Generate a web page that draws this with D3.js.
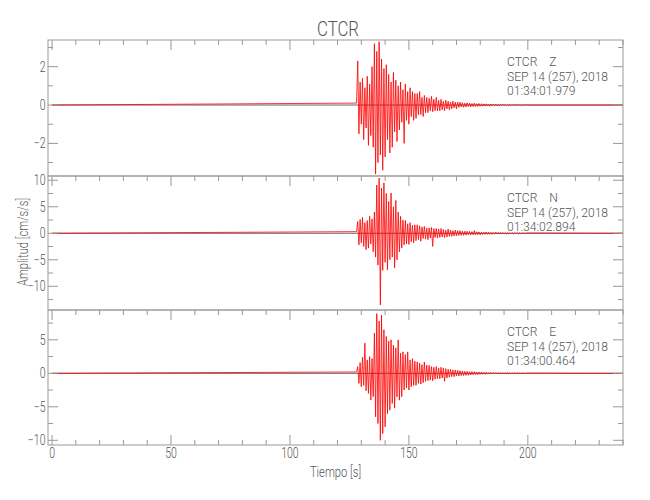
<!DOCTYPE html>
<html><head><meta charset="utf-8">
<script src="https://cdn.jsdelivr.net/npm/d3@7"></script>
<style>body{margin:0;background:#fff}svg{display:block}text{font-family:Roboto,"DejaVu Sans",sans-serif;font-weight:300;fill:#555;white-space:pre}</style>
</head><body><svg id="c" width="650" height="500"></svg>
<script>
const title = "CTCR";
const station = "CTCR";
const components = ["Z", "N", "E"];
const dateLabel = "SEP 14 (257), 2018";
const startTimes = ["01:34:01.979", "01:34:02.894", "01:34:00.464"];
const xLabel = "Tiempo [s]";
const yLabel = "Amplitud [cm/s/s]";
const xMajorTicks = [0, 50, 100, 150, 200];
const yMajorTicks = [[-2, 0, 2], [-10, -5, 0, 5, 10], [-10, -5, 0, 5]];
const yDomains = [[-3.70, 3.39], [-14.47, 10.8], [-10.7, 9.45]];
const yMinorStep = [1, 2.5, 2.5];
const tStart = 128, dt = 0.5, tEnd = 240;
const zValues = [
 0.1, 2.3, -1.5, 1.2, -1.0, 1.4, -1.8, 0.9, -1.2, 1.5,
 -2.1, 1.1, -1.6, 2.0, -2.2, 3.2, -3.6, 2.8, -3.0, 3.3,
 -2.6, 2.4, -3.4, 1.9, -2.7, 2.1, -1.8, 1.6, -2.5, 1.2,
 -2.2, 1.7, -1.4, 1.3, -1.9, 1.0, -1.3, 1.2, -0.9, 0.8,
 -2.0, 1.1, -0.8, 0.7, -1.0, 0.9, -0.6, 0.7, -0.8, 0.6,
 -0.7, 0.6, -0.5, 0.7, -0.5, 0.4, -0.6, 0.5, -0.4, 0.4,
 -0.4, 0.35, -0.3, 0.45, -0.35, 0.3, -0.3, 0.4, -0.3, 0.25,
 -0.3, 0.3, -0.25, 0.2, -0.3, 0.25, -0.2, 0.2, -0.25, 0.15,
 -0.2, 0.2, -0.15, 0.15, -0.2, 0.15, -0.12, 0.15, -0.1, 0.12,
 -0.12, 0.1, -0.1, 0.12, -0.08, 0.1, -0.1, 0.08, -0.08, 0.1,
 -0.08, 0.07, -0.07, 0.08, -0.06, 0.07, -0.06, 0.06, -0.05, 0.06,
 -0.05, 0.05, -0.06, 0.05, -0.04, 0.05, -0.04, 0.04, -0.05, 0.04,
 -0.04, 0.04, -0.03, 0.04, -0.03, 0.03, -0.03, 0.03, -0.03, 0.03,
 -0.03, 0.02, -0.02, 0.03, -0.02, 0.02, -0.02, 0.02, -0.02, 0.02,
 -0.02, 0.02, 0.01, 0];
const nValues = [
 0.3, 2.2, -2.2, 2.6, -1.8, 3.0, -2.5, 2.0, -3.1, 2.4,
 -2.8, 3.2, -2.0, 2.7, -3.5, 4.0, -4.5, 9.1, -6.0, 10.4,
 -13.5, 8.5, -7.0, 9.5, -5.5, 7.5, -6.9, 6.0, -5.0, 7.6,
 -4.5, 5.0, -6.5, 6.2, -5.0, 4.0, -3.5, 3.2, -2.8, 2.5,
 -2.2, 2.4, -2.0, 1.8, -2.1, 2.0, -1.6, 1.5, -1.8, 1.6,
 -1.4, 1.6, -1.2, 1.4, -1.5, 1.2, -1.0, 1.3, -1.1, 1.0,
 -1.2, 1.0, -0.9, 1.1, -2.5, 0.9, -0.8, 0.9, -0.9, 0.8,
 -0.8, 0.9, -0.7, 0.7, -0.8, 0.6, -0.7, 0.8, -0.6, 0.6,
 -0.6, 0.5, -0.5, 0.6, -0.5, 0.5, -0.4, 0.5, -0.4, 0.4,
 -0.4, 0.4, -0.35, 0.4, -0.3, 0.35, -0.3, 0.3, -0.3, 0.5,
 -0.3, 0.3, -0.25, 0.25, -0.3, 0.2, -0.25, 0.2, -0.2, 0.25,
 -0.2, 0.2, -0.2, 0.15, -0.2, 0.15, -0.15, 0.2, -0.15, 0.15,
 -0.15, 0.15, -0.12, 0.12, -0.15, 0.1, -0.12, 0.1, -0.1, 0.1,
 -0.1, 0.1, -0.1, 0.1, -0.08, 0.08, -0.1, 0.08, -0.08, 0.08,
 -0.08, 0.06, -0.06, 0.05];
const eValues = [
 0.2, 1.0, -1.5, 1.6, -2.0, 2.4, -1.8, 4.5, -2.6, 2.0,
 -3.0, 2.5, -4.0, 2.2, -3.5, 6.0, -6.5, 8.9, -7.5, 7.8,
 -10.0, 8.7, -9.0, 6.5, -8.0, 5.5, -6.0, 4.8, -5.5, 5.0,
 -4.5, 4.2, -5.2, 3.8, -3.5, 5.0, -4.0, 3.0, -3.5, 3.2,
 -2.5, 2.8, -2.2, 3.2, -2.5, 2.0, -2.0, 2.2, -1.8, 1.8,
 -1.8, 1.7, -1.5, 1.5, -1.6, 1.3, -1.4, 1.7, -1.2, 1.2,
 -1.1, 1.2, -1.0, 1.0, -1.1, 0.9, -0.9, 1.0, -0.8, 0.8,
 -0.8, 0.9, -0.7, 0.8, -1.2, 0.7, -0.7, 0.6, -0.6, 0.6,
 -0.5, 0.5, -0.5, 0.5, -0.4, 0.45, -0.4, 0.4, -0.35, 0.35,
 -0.35, 0.3, -0.3, 0.3, -0.3, 0.25, -0.25, 0.25, -0.2, 0.25,
 -0.2, 0.2, -0.2, 0.2, -0.15, 0.2, -0.15, 0.15, -0.15, 0.15,
 -0.12, 0.12, -0.12, 0.12, -0.1, 0.12, -0.1, 0.1, -0.1, 0.1,
 -0.1, 0.08, -0.08, 0.08, -0.08, 0.08, -0.06, 0.08, -0.06, 0.06,
 -0.06, 0.06, -0.05, 0.06, -0.05, 0.05, -0.05, 0.05, -0.04, 0.04,
 -0.04, 0.04, -0.03, 0.03];
const seriesValues = [zValues, nValues, eValues];

const svg = d3.select("#c");
const axisColor = "#999";
const frameL = 48, frameR = 623;
const panelTops = [40, 176, 310], panelBottoms = [176, 310, 445];
const x = d3.scaleLinear().domain([-1.7, 240]).range([frameL, frameR]);
const minorX = d3.range(0, 241, 10);

function squeeze(sel, f) {
  sel.each(function() { const w = this.getComputedTextLength(); d3.select(this).attr("textLength", w * f).attr("lengthAdjust", "spacingAndGlyphs"); });
}
const fmt = v => (v < 0 ? "\u2212" + Math.abs(v) : String(v));

seriesValues.forEach((vals, i) => {
  const top = panelTops[i], bot = panelBottoms[i];
  const y = d3.scaleLinear().domain(yDomains[i]).range([bot, top]);
  const g = svg.append("g");
  const pts = [[0, 0]].concat(vals.map((v, k) => [tStart + k * dt, v])).concat([[tEnd, 0]]);
  const line = d3.line().x(d => x(d[0])).y(d => y(d[1]));
  g.append("line").attr("x1", x(0)).attr("x2", x(tEnd)).attr("y1", y(0)).attr("y2", y(0)).attr("stroke", "#222").attr("stroke-width", 0.7);
  g.append("path").attr("d", line(pts)).attr("fill", "none").attr("stroke", "#ff0000").attr("stroke-width", 0.9).attr("stroke-opacity", 0.9);
  g.append("rect").attr("x", frameL).attr("y", top).attr("width", frameR - frameL).attr("height", bot - top).attr("fill", "none").attr("stroke", axisColor).attr("stroke-width", 1);
  minorX.forEach(t => {
    const len = t % 50 === 0 ? 10 : 5;
    g.append("line").attr("x1", x(t)).attr("x2", x(t)).attr("y1", top).attr("y2", top + len).attr("stroke", axisColor);
    if (i === 2) g.append("line").attr("x1", x(t)).attr("x2", x(t)).attr("y1", bot).attr("y2", bot - len).attr("stroke", axisColor);
  });
  const yMin = Math.ceil(yDomains[i][0] / yMinorStep[i]) * yMinorStep[i];
  d3.range(yMin, yDomains[i][1] + 1e-9, yMinorStep[i]).forEach(v => {
    const major = yMajorTicks[i].includes(v);
    const len = major ? 10 : 5;
    g.append("line").attr("x1", frameL).attr("x2", frameL + len).attr("y1", y(v)).attr("y2", y(v)).attr("stroke", axisColor);
    g.append("line").attr("x1", frameR).attr("x2", frameR - len).attr("y1", y(v)).attr("y2", y(v)).attr("stroke", axisColor);
  });
  g.selectAll("text.yl").data(yMajorTicks[i]).join("text").attr("class", "yl")
    .attr("x", 45.5).attr("y", d => y(d) + 5).attr("text-anchor", "end").attr("font-size", 14).text(fmt)
    .call(squeeze, 0.75);
  const ann = [station + "\u00a0\u00a0\u00a0\u00a0" + components[i], dateLabel, startTimes[i]];
  g.selectAll("text.an").data(ann).join("text").attr("class", "an")
    .attr("x", 507).attr("y", (d, k) => top + 26 + k * 14.7).attr("font-size", 12.5).text(d => d)
    .call(squeeze, 0.97);
});

svg.selectAll("text.xl").data(xMajorTicks).join("text").attr("class", "xl")
  .attr("x", d => x(d)).attr("y", 458).attr("text-anchor", "middle").attr("font-size", 14).text(d => d)
  .call(squeeze, 0.75);
svg.append("text").attr("x", 335.5).attr("y", 477).attr("text-anchor", "middle").attr("font-size", 14).text(xLabel).call(squeeze, 0.8);
svg.append("text").attr("transform", "translate(28,242) rotate(-90)").attr("text-anchor", "middle").attr("font-size", 14).text(yLabel).call(squeeze, 0.8);
svg.append("text").attr("x", 338).attr("y", 36).attr("text-anchor", "middle").attr("font-size", 21).text(title).call(squeeze, 0.8);
</script></body></html>
